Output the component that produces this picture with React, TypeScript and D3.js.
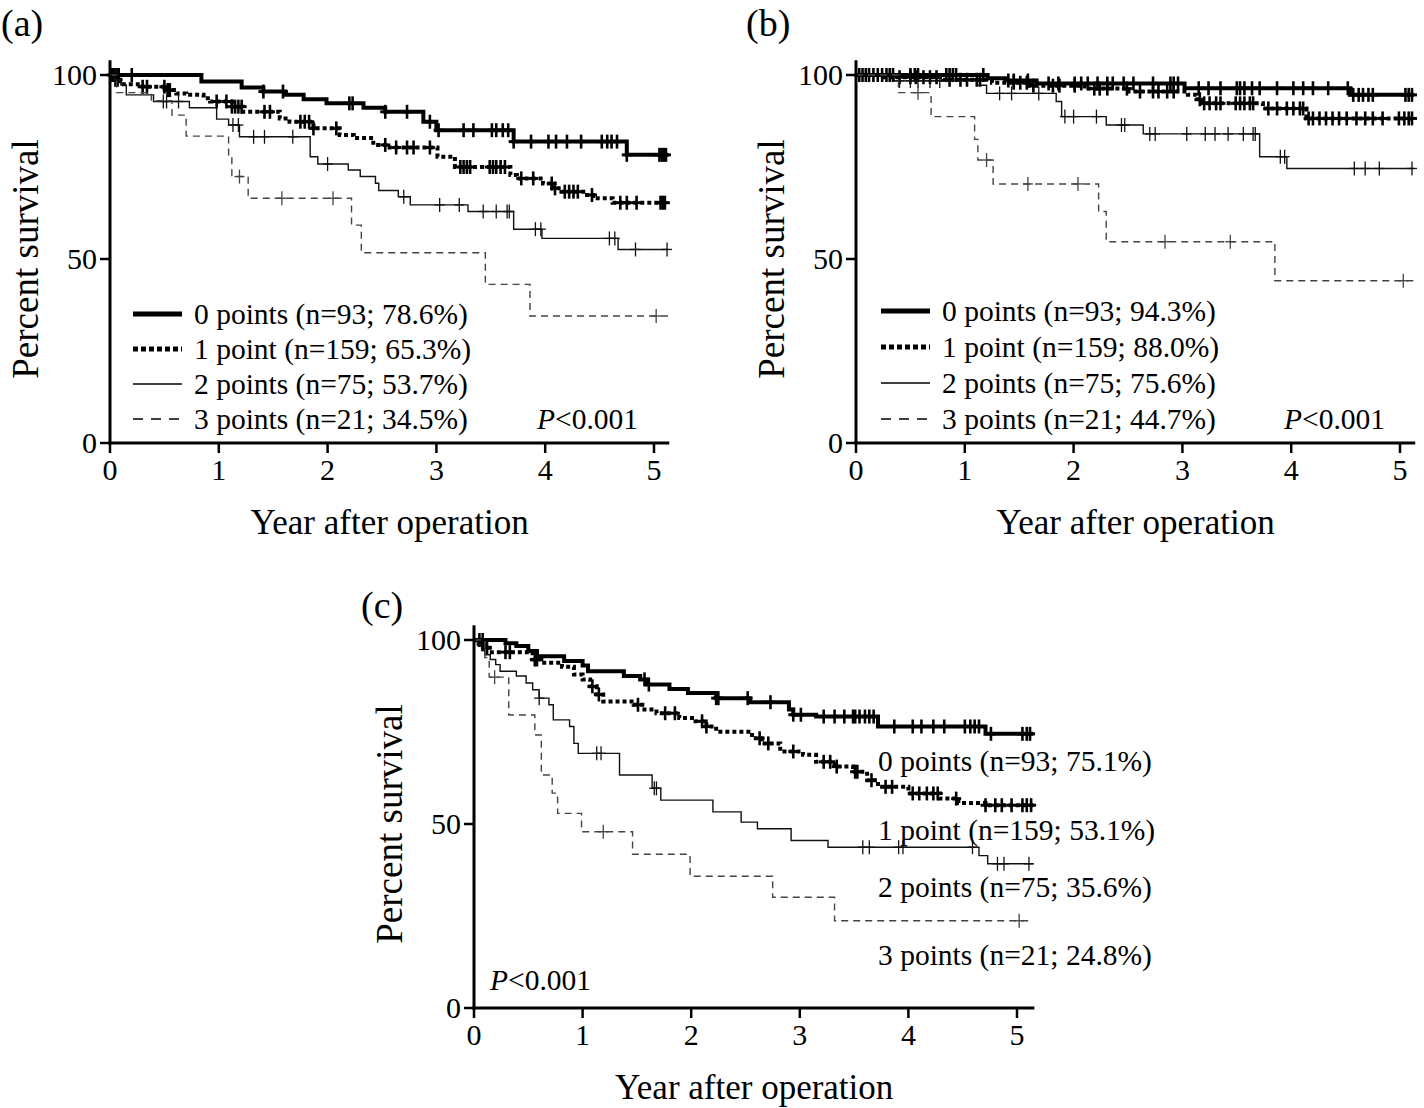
import React from 'react';
import * as d3 from 'd3';

type Step = [number, number];

const xTicks = [0, 1, 2, 3, 4, 5];
const yTicks = [0, 50, 100];
const panelLabels = ['(a)', '(b)', '(c)'];
const xTitle = 'Year after operation';
const yTitle = 'Percent survival';

const legendA = ['0 points (n=93; 78.6%)', '1 point (n=159; 65.3%)', '2 points (n=75; 53.7%)', '3 points (n=21; 34.5%)'];
const legendB = ['0 points (n=93; 94.3%)', '1 point (n=159; 88.0%)', '2 points (n=75; 75.6%)', '3 points (n=21; 44.7%)'];
const legendC = ['0 points (n=93; 75.1%)', '1 point (n=159; 53.1%)', '2 points (n=75; 35.6%)', '3 points (n=21; 24.8%)'];

// ---- Panel (a) ----
const a0Steps: Step[] = [[0,100],[0.84,98.2],[1.21,96.6],[1.41,95.5],[1.61,94.6],[1.78,93.4],[1.99,92.3],[2.33,91.1],[2.53,90.0],[2.88,87.3],[3.0,85.0],[3.71,81.9],[4.75,78.3]];
const a0Cens = [0.02,0.04,0.06,0.08,0.2,1.41,1.59,2.2,2.23,2.53,2.73,2.94,3.02,3.25,3.34,3.51,3.55,3.61,3.66,3.71,3.87,4.03,4.1,4.2,4.33,4.52,4.57,4.61,4.66,4.75,5.05,5.07,5.09,5.11];
const a1Steps: Step[] = [[0,100],[0.03,98.7],[0.09,97.5],[0.3,96.8],[0.52,95.9],[0.61,95.0],[0.7,94.6],[0.86,93.7],[0.92,92.8],[1.12,91.4],[1.22,90.0],[1.56,88.2],[1.65,87.3],[1.87,85.5],[2.11,83.7],[2.24,82.9],[2.42,81.0],[2.57,80.3],[3.01,77.8],[3.17,75.0],[3.68,72.8],[3.74,71.9],[3.98,70.5],[4.07,69.2],[4.15,68.3],[4.35,67.4],[4.44,66.5],[4.62,65.3]];
const a1Cens = [0.05,0.07,0.3,0.34,0.5,0.53,0.55,0.98,1.07,1.12,1.15,1.18,1.21,1.42,1.47,1.75,1.79,1.83,1.87,2.08,2.53,2.63,2.73,2.79,2.94,3.22,3.25,3.28,3.31,3.49,3.52,3.55,3.59,3.63,3.78,3.89,4.06,4.09,4.18,4.22,4.26,4.3,4.43,4.69,4.75,4.84,5.06,5.08,5.1];
const a2Steps: Step[] = [[0,100],[0.04,98.7],[0.1,97.3],[0.15,94.6],[0.4,92.8],[0.73,91.1],[0.98,88.0],[1.09,86.4],[1.19,83.2],[1.84,77.8],[1.91,75.8],[2.19,74.2],[2.3,72.4],[2.44,70.6],[2.47,68.6],[2.65,66.9],[2.76,64.7],[3.29,62.9],[3.71,58.1],[3.97,55.6],[4.67,52.6]];
const a2Cens = [0.49,0.52,0.63,1.13,1.18,1.32,1.42,1.68,2.0,2.7,3.03,3.21,3.43,3.55,3.65,3.67,3.91,3.96,4.59,4.64,4.83,5.12];
const a3Steps: Step[] = [[0,100],[0.06,95.2],[0.38,93.0],[0.57,89.1],[0.7,83.4],[1.09,77.8],[1.12,72.4],[1.27,66.5],[2.22,59.2],[2.31,51.7],[3.45,43.1],[3.86,34.5]];
const a3Cens = [1.19,1.58,2.05,5.02];

// ---- Panel (b) ----
const b0Steps: Step[] = [[0,100],[1.21,99.1],[1.39,98.5],[1.66,97.7],[3.02,96.4],[4.54,94.6]];
const b0Cens = [0.03,0.06,0.09,0.12,0.16,0.2,0.24,0.28,0.31,0.34,0.5,0.54,0.57,0.83,0.86,0.89,0.92,1.17,1.4,1.45,1.58,1.77,1.86,2.01,2.07,2.13,2.22,2.31,2.36,2.46,2.55,2.73,2.89,2.92,2.96,3.15,3.24,3.35,3.5,3.53,3.57,3.64,3.71,3.87,4.02,4.11,4.2,4.34,4.52,4.57,4.62,4.66,4.71,4.75,5.05,5.08,5.11];
const b1Steps: Step[] = [[0,100],[0.25,99.4],[0.8,98.7],[1.25,97.9],[1.6,97.1],[2.1,96.3],[2.5,95.5],[3.05,94.6],[3.13,93.4],[3.18,92.3],[3.74,90.9],[4.14,88.2]];
const b1Cens = [0.4,0.5,0.55,0.62,0.68,0.74,0.86,0.96,1.02,1.11,1.14,1.45,1.51,1.57,1.63,1.81,1.87,2.01,2.19,2.24,2.31,2.49,2.61,2.73,2.78,2.86,2.92,3.16,3.2,3.25,3.31,3.35,3.49,3.53,3.57,3.62,3.65,3.79,3.87,3.96,4.02,4.08,4.11,4.16,4.2,4.26,4.32,4.38,4.44,4.51,4.6,4.68,4.75,4.84,4.99,5.04,5.08,5.11];
const b2Steps: Step[] = [[0,100],[0.35,98.4],[1.11,97.2],[1.2,95.0],[1.84,92.8],[1.89,88.7],[2.3,86.4],[2.64,84.0],[3.71,77.8],[3.96,74.6]];
const b2Cens = [0.4,0.5,0.57,0.68,0.77,1.32,1.43,1.68,1.92,2.0,2.21,2.44,2.47,2.7,2.75,3.04,3.21,3.3,3.42,3.56,3.65,3.67,3.9,3.94,4.58,4.68,4.81,5.11];
const b3Steps: Step[] = [[0,100],[0.39,95.2],[0.69,88.7],[1.09,82.5],[1.12,76.9],[1.26,70.4],[2.23,62.9],[2.3,54.7],[3.85,44.1]];
const b3Cens = [0.57,1.2,1.58,2.04,2.84,3.44,5.03];

// ---- Panel (c) ----
const c0Steps: Step[] = [[0,100],[0.29,99.1],[0.39,98.4],[0.5,97.0],[0.58,95.6],[0.83,94.3],[1.0,93.1],[1.05,91.5],[1.38,90.2],[1.53,89.3],[1.59,87.9],[1.8,86.7],[1.97,85.6],[2.23,84.2],[2.54,83.1],[2.9,81.1],[2.94,79.7],[3.15,79.2],[3.72,76.5],[4.71,74.5]];
const c0Cens = [0.05,0.08,1.57,1.61,2.23,2.25,2.52,2.73,2.94,3.01,3.22,3.32,3.41,3.49,3.51,3.55,3.6,3.64,3.68,3.87,4.04,4.12,4.23,4.33,4.52,4.57,4.61,4.65,4.76,5.05,5.09,5.12];
const c1Steps: Step[] = [[0,100],[0.05,98.8],[0.1,97.9],[0.14,96.7],[0.54,94.7],[0.62,93.8],[0.81,92.7],[0.92,90.6],[1.0,89.3],[1.07,87.4],[1.13,85.2],[1.19,83.3],[1.47,82.4],[1.55,81.1],[1.68,80.1],[1.89,78.8],[2.04,77.9],[2.14,76.5],[2.23,75.1],[2.56,73.3],[2.65,71.9],[2.82,69.7],[3.03,68.8],[3.15,66.9],[3.32,65.6],[3.49,64.2],[3.62,61.9],[3.72,60.1],[4.0,58.3],[4.29,56.9],[4.46,55.7],[4.71,55.1]];
const c1Cens = [0.08,0.12,0.29,0.33,0.56,0.58,1.09,1.15,1.51,1.76,1.85,2.1,2.14,2.63,2.71,2.94,3.22,3.28,3.34,3.51,3.53,3.66,3.79,3.85,4.04,4.1,4.17,4.23,4.27,4.44,4.71,4.8,4.86,4.95,5.05,5.09,5.13];
const c2Steps: Step[] = [[0,100],[0.03,98.7],[0.07,97.3],[0.1,96.0],[0.15,94.7],[0.2,93.3],[0.24,91.5],[0.39,90.2],[0.48,88.3],[0.54,86.5],[0.6,84.2],[0.69,82.4],[0.73,78.3],[0.88,76.5],[0.92,71.9],[0.96,69.2],[1.34,63.3],[1.64,59.7],[1.72,56.5],[2.2,53.3],[2.46,50.5],[2.61,48.7],[2.92,45.5],[3.26,43.7],[4.65,41.4],[4.73,39.2]];
const c2Cens = [0.6,1.13,1.17,1.66,1.68,3.58,3.64,3.91,3.95,4.59,4.82,4.88,5.11];
const c3Steps: Step[] = [[0,100],[0.1,95.2],[0.14,89.9],[0.32,79.6],[0.56,74.2],[0.62,63.3],[0.72,58.4],[0.77,52.9],[0.99,47.9],[1.46,41.8],[1.99,35.8],[2.75,30.1],[3.32,23.7]];
const c3Cens = [0.19,1.19,5.02];

const FONT = '"Liberation Serif", "Times New Roman", Times, serif';

const styles = [
  { w: 4, dash: undefined as string | undefined, color: '#000', tw: 2.6, lw: 5, ldash: undefined as string | undefined },
  { w: 4, dash: '4,3', color: '#000', tw: 2.6, lw: 5, ldash: '5,3' },
  { w: 1.4, dash: undefined, color: '#111', tw: 1.3, lw: 1.6, ldash: undefined },
  { w: 1.4, dash: '7,5', color: '#444', tw: 1.3, lw: 1.6, ldash: '10,8' },
];

function valueAt(steps: Step[], t: number) {
  let v = steps[0][1];
  for (const s of steps) if (s[0] <= t) v = s[1];
  return v;
}

type PanelProps = {
  label: string;
  labelPos: [number, number];
  xr: [number, number];
  yr: [number, number];
  tEnd: number;
  curves: { steps: Step[]; cens: number[] }[];
  legend: string[];
  legendMode: 'box' | 'right';
  legendX: number;
  legendYs: number[];
  pPos: [number, number];
};

function Panel(p: PanelProps) {
  const x = d3.scaleLinear().domain([0, 5]).range(p.xr);
  const y = d3.scaleLinear().domain([0, 100]).range(p.yr);
  const line = d3.line<[number, number]>().x(d => x(d[0])).y(d => y(d[1])).curve(d3.curveStepAfter);
  const x0 = x(0);
  const y0 = y(0);
  const xEnd = x(p.tEnd + 0.01);
  const yMid = y(50);
  const xMid = (x0 + xEnd) / 2;
  return (
    <g>
      <text x={p.labelPos[0] + 1} y={p.labelPos[1]} fontSize={38} fontFamily={FONT}>{p.label}</text>
      {p.curves.map((c, i) => {
        const st = styles[i];
        const pts: [number, number][] = c.steps.map(s => [s[0], s[1]] as [number, number]);
        pts.push([p.tEnd, c.steps[c.steps.length - 1][1]]);
        return (
          <g key={i}>
            <path d={line(pts) || ''} fill="none" stroke={st.color} strokeWidth={st.w} strokeDasharray={st.dash} />
            {c.cens.map((t, j) => {
              const cx = x(t);
              const cy = y(valueAt(c.steps, t));
              return (
                <g key={j} stroke={st.color}>
                  <line x1={cx} x2={cx} y1={cy - 7} y2={cy + 7} strokeWidth={st.tw} />
                  <line x1={cx - 5} x2={cx + 5} y1={cy} y2={cy} strokeWidth={i < 2 ? 3 : 1.3} />
                </g>
              );
            })}
          </g>
        );
      })}
      <line x1={x0} x2={x0} y1={y(104)} y2={y0 + 1.5} stroke="#000" strokeWidth={3} />
      <line x1={x0 - 1.5} x2={xEnd} y1={y0} y2={y0} stroke="#000" strokeWidth={3} />
      {yTicks.map(t => (
        <g key={'y' + t}>
          <line x1={x0 - 10} x2={x0} y1={y(t)} y2={y(t)} stroke="#000" strokeWidth={2.5} />
          <text x={x0 - 13} y={y(t) + 10} textAnchor="end" fontSize={30} fontFamily={FONT}>{t}</text>
        </g>
      ))}
      {xTicks.map(t => (
        <g key={'x' + t}>
          <line x1={x(t)} x2={x(t)} y1={y0} y2={y0 + 10} stroke="#000" strokeWidth={2.5} />
          <text x={x(t)} y={y0 + 37} textAnchor="middle" fontSize={30} fontFamily={FONT}>{t}</text>
        </g>
      ))}
      <text x={xMid} y={y0 + 91} textAnchor="middle" fontSize={35} fontFamily={FONT}>{xTitle}</text>
      <text transform={`translate(${x0 - 72},${yMid}) rotate(-90)`} textAnchor="middle" fontSize={37} fontFamily={FONT}>{yTitle}</text>
      {p.legend.map((s, i) => {
        const st = styles[i];
        const ly = p.legendYs[i];
        return (
          <g key={'l' + i}>
            {p.legendMode === 'box' && (
              <line x1={p.legendX - 61} x2={p.legendX - 12} y1={ly} y2={ly} stroke="#000" strokeWidth={st.lw} strokeDasharray={st.ldash} />
            )}
            <text x={p.legendX} y={ly + 10} fontSize={29.5} fontFamily={FONT}>{s}</text>
          </g>
        );
      })}
      <text x={p.pPos[0]} y={p.pPos[1]} fontSize={29.5} fontFamily={FONT}>
        <tspan fontStyle="italic">P</tspan>&lt;0.001
      </text>
    </g>
  );
}

export default function App() {
  return (
    <svg width={1424} height={1108} style={{ position: 'absolute', left: 0, top: 0, background: '#fff' }}>
      <rect width={1424} height={1108} fill="#fff" />
      <Panel
        label={panelLabels[0]} labelPos={[0, 36]}
        xr={[110, 654]} yr={[443, 75]} tEnd={5.13}
        curves={[{ steps: a0Steps, cens: a0Cens }, { steps: a1Steps, cens: a1Cens }, { steps: a2Steps, cens: a2Cens }, { steps: a3Steps, cens: a3Cens }]}
        legend={legendA} legendMode="box" legendX={194} legendYs={[314, 349, 384, 419]} pPos={[537, 429]}
      />
      <Panel
        label={panelLabels[1]} labelPos={[745, 36]}
        xr={[856, 1400]} yr={[443, 75]} tEnd={5.13}
        curves={[{ steps: b0Steps, cens: b0Cens }, { steps: b1Steps, cens: b1Cens }, { steps: b2Steps, cens: b2Cens }, { steps: b3Steps, cens: b3Cens }]}
        legend={legendB} legendMode="box" legendX={942} legendYs={[311, 347, 383, 419]} pPos={[1284, 429]}
      />
      <Panel
        label={panelLabels[2]} labelPos={[360, 618]}
        xr={[474, 1017]} yr={[1008, 640]} tEnd={5.15}
        curves={[{ steps: c0Steps, cens: c0Cens }, { steps: c1Steps, cens: c1Cens }, { steps: c2Steps, cens: c2Cens }, { steps: c3Steps, cens: c3Cens }]}
        legend={legendC} legendMode="right" legendX={878} legendYs={[761, 830, 887, 955]} pPos={[490, 990]}
      />
    </svg>
  );
}
